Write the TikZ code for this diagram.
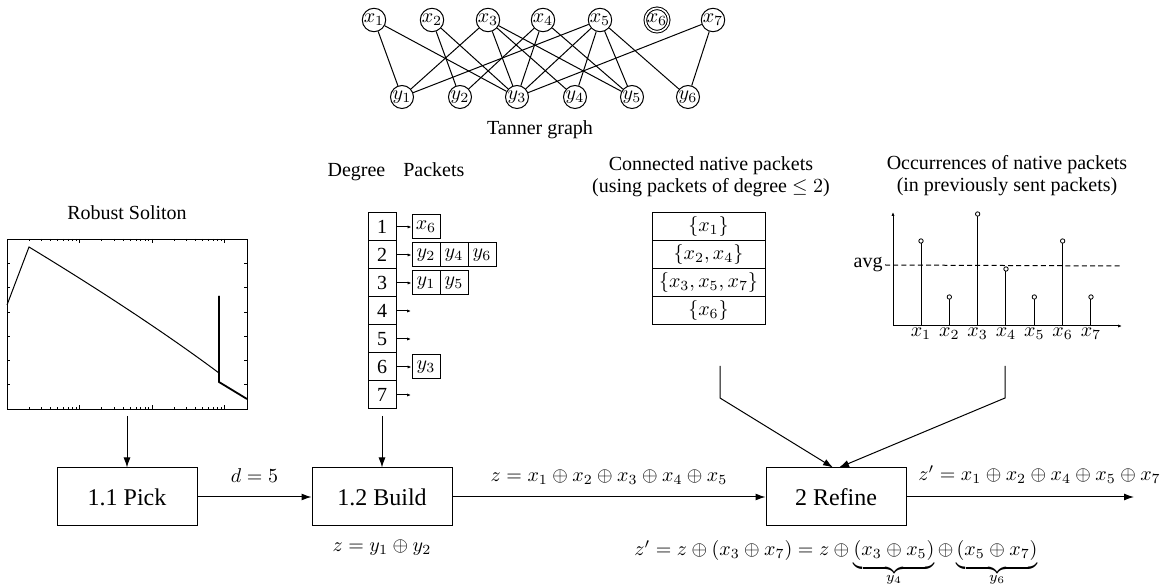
\documentclass[tikz,border=0pt]{standalone}
\usepackage[no-math]{fontspec}
\setmainfont{Liberation Serif}
\usepackage{amsmath}
\usetikzlibrary{arrows.meta}
\newcommand{\ubl}[1]{\smash{\raisebox{3pt}{$\scriptstyle #1$}}}
\begin{document}
\begin{tikzpicture}[x=0.5pt,y=-0.5pt,line width=0.5pt,
  every node/.style={font=\fontsize{10}{12}\selectfont},
  txt/.style={font=\fontsize{10}{11}\selectfont},
  vnode/.style={draw,circle,minimum size=11.5pt,inner sep=0pt},
  proc/.style={draw,minimum width=70pt,minimum height=29pt,font=\fontsize{12}{14}\selectfont},
  cell/.style={draw,minimum width=14pt,minimum height=14pt,inner sep=0pt},
  pkt/.style={draw,minimum width=14pt,minimum height=12pt,inner sep=0pt},
  crow/.style={draw,minimum width=56.5pt,minimum height=14pt,inner sep=0pt},
  big/.style={-{Latex[length=5pt,width=3.5pt]}},
  small/.style={-{Latex[length=2pt,width=1.6pt]}},
  tick/.style={line width=0.3pt}]
\useasboundingbox (0,0) rectangle (1163,587);

% ---------------- Tanner graph
\foreach \n/\x in {1/374,2/432,3/488,4/543,5/600,7/713}
  \node[vnode] (x\n) at (\x,20) {$x_\n$};
\node[draw,circle,double,double distance=0.8pt,inner sep=0pt,minimum size=9pt] (x6) at (657,20) {$x_6$};
\foreach \n/\x in {1/402,2/460,3/517,4/575,5/632,6/688}
  \node[vnode] (y\n) at (\x,97) {$y_\n$};
\foreach \a/\b in {1/1,1/3,2/2,2/3,3/1,3/3,3/4,3/5,4/2,4/3,4/5,5/1,5/3,5/4,5/5,5/6,7/3,7/6}
  \draw (x\a) -- (y\b);
\node[txt] (tg) at (540,130) {Tanner graph};

% ---------------- Robust Soliton
\node[txt] (rst) at (127,213) {Robust Soliton};
\node[draw,anchor=north west,minimum width=120pt,minimum height=85pt,inner sep=0pt] (rs) at (7,239) {};
\foreach \e in {0,1,2,3}{\foreach \d in {1,...,9}{
  \pgfmathsetmacro\tx{7+72.5*(\e+log10(\d))}
  \pgfmathsetmacro\tl{\d==1?4:2}
  \pgfmathparse{and(\tx>8,\tx<246)?1:0}
  \ifnum\pgfmathresult=1
    \draw[tick] (\tx,239) -- ++(0,\tl) (\tx,409) -- ++(0,-\tl);
  \fi}}
\foreach \k in {1,...,6}
  \draw[tick] (7,{239+24.3*\k}) -- ++(3,0) (247,{239+24.3*\k}) -- ++(-3,0);
\draw (7,305) -- (29,247) .. controls (90,284) and (160,329) .. (219,373) -- (219,296);
\draw[line width=0.9pt] (219,296) -- (219,382) -- (247,399);

% ---------------- Degree table
\node[txt] (dh) at (396,172) {Degree\hspace{0.9em}Packets};
\foreach \i in {1,...,7}
  \node[cell] (d\i) at (382,{227+28*(\i-1)}) {\i};
\node[pkt] (p11) at (426,227) {$x_6$};
\node[pkt] (p21) at (426,255) {$y_2$};
\node[pkt] (p22) at (454,255) {$y_4$};
\node[pkt] (p23) at (482,255) {$y_6$};
\node[pkt] (p31) at (426,283) {$y_1$};
\node[pkt] (p32) at (454,283) {$y_5$};
\node[pkt] (p61) at (426,367) {$y_3$};
\draw[small] (d1) -- (p11);
\draw[small] (d2) -- (p21);
\draw[small] (d3) -- (p31);
\draw[small] (d6) -- (p61);
\coordinate (e4) at (411,311);
\coordinate (e5) at (411,339);
\coordinate (e7) at (411,395);
\draw[small] (d4) -- (e4);
\draw[small] (d5) -- (e5);
\draw[small] (d7) -- (e7);

% ---------------- Connected native packets
\node[txt,align=center] (ct) at (711,177) {Connected native packets\\(using packets of degree $\le 2$)};
\node[crow] (c1) at (708.5,227) {$\{x_1\}$};
\node[crow] (c2) at (708.5,255) {$\{x_2,x_4\}$};
\node[crow] (c3) at (708.5,283) {$\{x_3,x_5,x_7\}$};
\node[crow] (c4) at (708.5,311) {$\{x_6\}$};

% ---------------- Occurrences
\node[txt,align=center] (ot) at (1007,176) {Occurrences of native packets\\(in previously sent packets)};
\coordinate (o) at (893,326);
\coordinate (ytop) at (893,212);
\coordinate (xend) at (1122,326);
\draw[small] (o) -- (ytop);
\draw[small] (o) -- (xend);
\node[txt,anchor=east,inner sep=1pt] (avg) at (885,265) {avg};
\draw[dashed,dash pattern=on 2.5pt off 1.6pt] (avg.east) -- (1120,266);
\foreach \i/\h in {1/241,2/297,3/214,4/269,5/297,6/241,7/297}{
  \pgfmathsetmacro\sx{921+28.33*(\i-1)}
  \draw (\sx,326) -- (\sx,\h);
  \draw[fill=white,line width=0.4pt] (\sx,\h) circle[radius=1.1pt];
  \node[anchor=base] at (\sx,337) {$x_\i$};
}

% ---------------- Process chain
\node[proc] (pick) at (127,497) {1.1 Pick};
\node[proc] (build) at (382,497) {1.2 Build};
\node[proc] (refine) at (836,497) {2 Refine};
\coordinate (out) at (1134,497);
\coordinate (rsout) at (127,416);
\coordinate (dtout) at (382,416);
\draw[big] (rsout) -- (pick);
\draw[big] (dtout) -- (build);
\draw[big] (pick) -- node[midway,anchor=base,yshift=7pt] {$d=5$} (build);
\draw[big] (build) -- node[midway,anchor=base,yshift=7.5pt] {$z=x_1\oplus x_2\oplus x_3\oplus x_4\oplus x_5$} (refine);
\draw[big] (refine) -- node[pos=0.585,anchor=base,yshift=8pt] {$z'=x_1\oplus x_2\oplus x_4\oplus x_5\oplus x_7$} (out);
\node[anchor=base] (zb) at (382,552) {$z=y_1\oplus y_2$};
\node[anchor=base] (zr) at (836,556) {$z'=z\oplus(x_3\oplus x_7)=z\oplus\underbrace{(x_3\oplus x_5)}_{\ubl{y_4}}\oplus\underbrace{(x_5\oplus x_7)}_{\ubl{y_6}}$};

\coordinate (cin) at (720,366);
\coordinate (cbend) at (720,398);
\coordinate (oin) at (1005,366);
\coordinate (obend) at (1005,398);
\draw[big] (cin) -- (cbend) -- ([xshift=-1.5pt]refine.north);
\draw[big] (oin) -- (obend) -- ([xshift=1.5pt]refine.north);
\end{tikzpicture}
\end{document}
